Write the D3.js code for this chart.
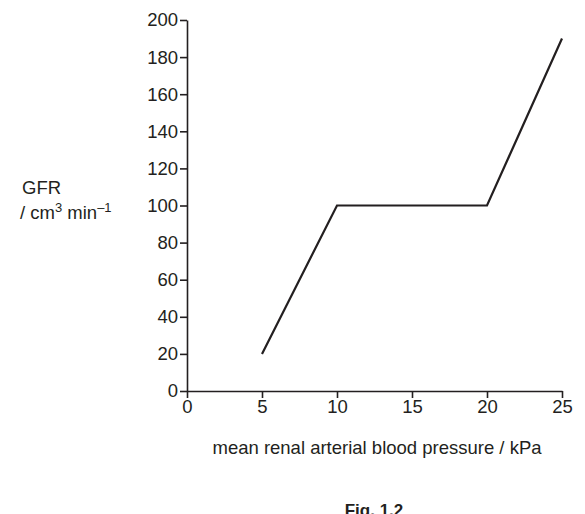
<!DOCTYPE html>
<html><head><meta charset="utf-8">
<script src="https://cdn.jsdelivr.net/npm/d3@7"></script>
<style>body{margin:0;background:#fff}text{font-family:"Liberation Sans",Arial,sans-serif;fill:#231f20}</style>
</head><body>
<script>
// data
const pressure = [5, 10, 20, 25];
const gfr = [20, 100, 100, 190];
const xTicks = [0, 5, 10, 15, 20, 25];
const yTicks = [0, 20, 40, 60, 80, 100, 120, 140, 160, 180, 200];

const svg = d3.select('body').append('svg').attr('width', 585).attr('height', 514);

const x = d3.scaleLinear().domain([0, 25]).range([187, 562]);
const y = d3.scaleLinear().domain([0, 200]).range([391, 20]);

const yAxis = svg.append('g').attr('transform', 'translate(187,0)')
    .call(d3.axisLeft(y).tickValues(yTicks).tickSize(7).tickPadding(2).tickSizeOuter(0));
const xAxis = svg.append('g').attr('transform', 'translate(0,391)')
    .call(d3.axisBottom(x).tickValues(xTicks).tickSize(7).tickPadding(2).tickSizeOuter(0));

[yAxis, xAxis].forEach(g => {
    g.selectAll('path,line').attr('stroke', '#231f20').attr('stroke-width', 1.6);
    g.selectAll('text').style('font-size', '18.5px').attr('fill', '#231f20');
});

const line = d3.line().x((d, i) => x(pressure[i])).y(d => y(d));
svg.append('path').datum(gfr).attr('d', line)
    .attr('fill', 'none').attr('stroke', '#231f20').attr('stroke-width', 2.2);

svg.append('text').attr('x', 22).attr('y', 194).style('font-size', '18.5px').text('GFR');
const u = svg.append('text').attr('x', 20).attr('y', 219).style('font-size', '18.5px');
u.append('tspan').text('/ cm');
u.append('tspan').attr('dy', -7).style('font-size', '13px').text('3');
u.append('tspan').attr('dy', 7).text(' min');
u.append('tspan').attr('dy', -7).style('font-size', '13px').text('–1');

svg.append('text').attr('x', 377).attr('y', 454).attr('text-anchor', 'middle')
    .style('font-size', '18.5px').text('mean renal arterial blood pressure / kPa');
svg.append('text').attr('x', 374).attr('y', 516).attr('text-anchor', 'middle')
    .style('font-size', '17px').style('font-weight', 'bold').text('Fig. 1.2');
</script>
</body></html>
